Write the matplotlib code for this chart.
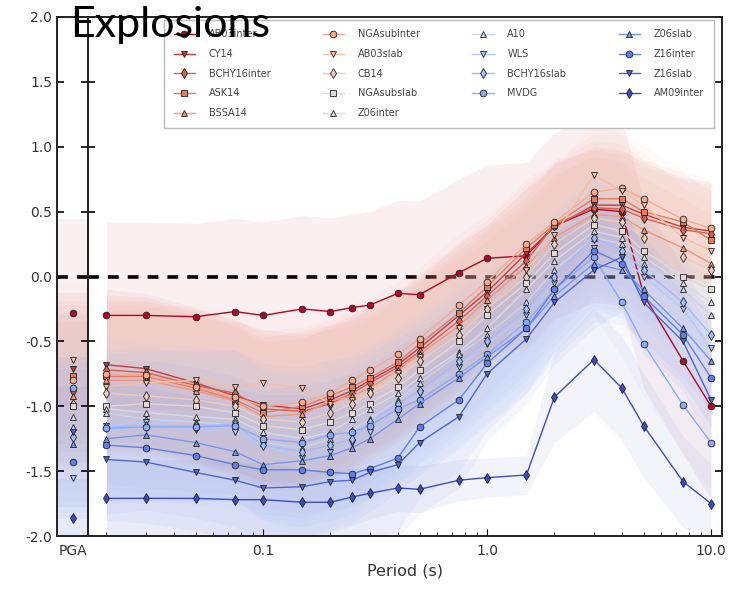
import numpy as np
import matplotlib
matplotlib.use("Agg")
import matplotlib.pyplot as plt
from matplotlib.ticker import FixedLocator, FixedFormatter, LogLocator, NullFormatter

periods = [0.02, 0.03, 0.05, 0.075, 0.1, 0.15, 0.2, 0.25, 0.3, 0.4, 0.5,
           0.75, 1.0, 1.5, 2.0, 3.0, 4.0, 5.0, 7.5, 10.0]

names = ["AB03inter", "CY14", "BCHY16inter", "ASK14", "BSSA14",
         "NGAsubinter", "AB03slab", "CB14", "NGAsubslab", "Z06inter",
         "A10", "WLS", "BCHY16slab", "MVDG",
         "Z06slab", "Z16inter", "Z16slab", "AM09inter"]

markers = ["o", "v", "d", "s", "^",
           "o", "v", "d", "s", "^",
           "^", "v", "d", "o",
           "^", "o", "v", "d"]

pga = [-0.28, -0.71, -0.88, -0.77, -0.92,
       -0.80, -0.64, -0.98, -1.00, -1.08,
       -1.16, -1.55, -1.24, -0.86,
       -1.29, -1.43, -1.20, -1.86]

s00 = [-0.30, -0.30, -0.31, -0.27, -0.30, -0.25, -0.27, -0.24, -0.22, -0.13, -0.14, 0.03, 0.14, 0.16, 0.39, 0.52, 0.50, -0.14, -0.65, -1.00]
s01 = [-0.68, -0.71, -0.82, -0.92, -0.99, -1.02, -0.95, -0.88, -0.80, -0.68, -0.55, -0.30, -0.12, 0.18, 0.38, 0.55, 0.55, 0.48, 0.38, 0.35]
s02 = [-0.72, -0.74, -0.84, -0.90, -1.02, -1.04, -0.98, -0.90, -0.82, -0.70, -0.58, -0.34, -0.15, 0.12, 0.40, 0.53, 0.52, 0.45, 0.36, 0.33]
s03 = [-0.77, -0.77, -0.86, -0.95, -1.05, -1.00, -0.92, -0.85, -0.78, -0.66, -0.52, -0.28, -0.08, 0.22, 0.40, 0.60, 0.60, 0.50, 0.42, 0.28]
s04 = [-0.80, -0.80, -0.88, -0.96, -1.08, -1.06, -0.96, -0.92, -0.86, -0.72, -0.60, -0.38, -0.18, 0.08, 0.30, 0.48, 0.46, 0.36, 0.22, 0.10]
s05 = [-0.75, -0.76, -0.85, -0.93, -1.00, -0.97, -0.90, -0.80, -0.72, -0.60, -0.48, -0.22, -0.04, 0.25, 0.42, 0.65, 0.68, 0.60, 0.44, 0.37]
s06 = [-0.85, -0.82, -0.80, -0.85, -0.82, -0.86, -0.98, -0.95, -0.88, -0.74, -0.62, -0.40, -0.25, 0.05, 0.32, 0.78, 0.66, 0.55, 0.30, 0.20]
s07 = [-0.90, -0.92, -0.95, -1.00, -1.10, -1.12, -1.05, -0.98, -0.90, -0.78, -0.65, -0.45, -0.25, 0.00, 0.25, 0.45, 0.42, 0.30, 0.15, 0.05]
s08 = [-1.00, -0.98, -1.00, -1.05, -1.15, -1.18, -1.12, -1.05, -0.98, -0.85, -0.72, -0.50, -0.30, -0.05, 0.18, 0.40, 0.35, 0.20, 0.00, -0.10]
s09 = [-1.02, -1.05, -1.08, -1.10, -1.20, -1.25, -1.20, -1.10, -1.02, -0.90, -0.78, -0.58, -0.40, -0.10, 0.12, 0.35, 0.30, 0.15, -0.05, -0.20]
s10 = [-1.05, -1.10, -1.12, -1.15, -1.28, -1.32, -1.25, -1.18, -1.10, -0.95, -0.82, -0.60, -0.45, -0.20, 0.05, 0.30, 0.25, 0.10, -0.10, -0.30]
s11 = [-1.15, -1.12, -1.18, -1.20, -1.30, -1.40, -1.35, -1.28, -1.20, -1.05, -0.90, -0.70, -0.52, -0.30, -0.05, 0.22, 0.15, 0.00, -0.25, -0.55]
s12 = [-1.16, -1.15, -1.15, -1.14, -1.30, -1.35, -1.30, -1.25, -1.12, -0.98, -0.88, -0.65, -0.50, -0.25, 0.00, 0.30, 0.20, 0.05, -0.20, -0.45]
s13 = [-1.17, -1.16, -1.16, -1.15, -1.25, -1.28, -1.22, -1.20, -1.15, -1.02, -0.95, -0.75, -0.60, -0.35, -0.10, 0.15, -0.20, -0.52, -0.99, -1.28]
s14 = [-1.25, -1.22, -1.28, -1.35, -1.45, -1.42, -1.38, -1.32, -1.25, -1.10, -0.98, -0.78, -0.62, -0.40, -0.15, 0.10, 0.05, -0.10, -0.40, -0.65]
s15 = [-1.30, -1.32, -1.38, -1.45, -1.49, -1.49, -1.51, -1.52, -1.48, -1.40, -1.16, -0.95, -0.67, -0.40, -0.10, 0.20, 0.10, -0.15, -0.45, -0.78]
s16 = [-1.41, -1.43, -1.51, -1.57, -1.63, -1.62, -1.58, -1.57, -1.51, -1.45, -1.28, -1.08, -0.75, -0.48, -0.20, 0.05, 0.15, -0.20, -0.50, -0.95]
s17 = [-1.71, -1.71, -1.71, -1.72, -1.72, -1.74, -1.74, -1.70, -1.67, -1.63, -1.64, -1.57, -1.55, -1.53, -0.93, -0.64, -0.86, -1.15, -1.58, -1.75]

series = [s00, s01, s02, s03, s04, s05, s06, s07, s08, s09,
          s10, s11, s12, s13, s14, s15, s16, s17]

# standard deviations used for the shaded bands
sig_first = [0.72] * 20
sig_mid = [0.58, 0.58, 0.58, 0.58, 0.58, 0.58, 0.58, 0.58, 0.56, 0.56,
           0.55, 0.55, 0.52, 0.50, 0.48, 0.45, 0.42, 0.40, 0.38, 0.38]
sig_last = [0.30, 0.30, 0.30, 0.30, 0.28, 0.26, 0.24, 0.22, 0.20, 0.18,
            0.18, 0.16, 0.15, 0.15, 0.35, 0.40, 0.40, 0.40, 0.35, 0.30]
sig_pga = [0.72] + [0.58] * 16 + [0.30]

n = len(series)
colors = plt.cm.coolwarm_r(np.linspace(0, 1, n))

fig = plt.figure(figsize=(7.44, 5.99), dpi=100)
W, H = 744.0, 599.0
bot = 1 - 536 / H
top = 1 - 17 / H
axp = fig.add_axes([57 / W, bot, 31 / W, top - bot])
ax = fig.add_axes([88 / W, bot, (722 - 88) / W, top - bot], sharey=axp)

alpha_band = 0.06
for i, (vals, c) in enumerate(zip(series, colors)):
    if i == 0:
        sg = np.array(sig_first)
    elif i == n - 1:
        sg = np.array(sig_last)
    else:
        sg = np.array(sig_mid)
    v = np.array(vals)
    ax.fill_between(periods, v - sg, v + sg, color=c, alpha=alpha_band, lw=0, zorder=1)
    ax.plot(periods, v, color=c, lw=1.0, marker=markers[i], ms=4.8,
            mec="#222222", mew=0.6, mfc=c, label=names[i], zorder=3 + i * 0.01)
    axp.axhspan(pga[i] - sig_pga[i], pga[i] + sig_pga[i], color=c, alpha=alpha_band, lw=0, zorder=1)
    axp.plot([0.5], [pga[i]], color=c, marker=markers[i], ms=4.8, mec="#222222",
             mew=0.6, mfc=c, ls="none", zorder=3)

for a in (ax, axp):
    a.axhline(0, color="k", ls=(0, (3, 2.5)), lw=2.6, zorder=0.5)
    for sp in a.spines.values():
        sp.set_linewidth(1.4)
        sp.set_color("#222222")

axp.set_xlim(0, 1)
axp.set_ylim(-2.0, 2.0)
yt = [-2.0, -1.5, -1.0, -0.5, 0.0, 0.5, 1.0, 1.5, 2.0]
axp.set_yticks(yt)
axp.set_yticklabels(["%.1f" % t for t in yt])
axp.set_xticks([0.5])
axp.set_xticklabels(["PGA"])
axp.tick_params(axis="x", length=0, labelsize=10, labelcolor="#333333", pad=6)
axp.tick_params(axis="y", direction="in", left=True, right=True, length=5,
                labelsize=10, labelcolor="#333333", width=1.2)

ax.set_xscale("log")
ax.set_xlim(0.01655, 11.2)
ax.xaxis.set_major_locator(FixedLocator([0.1, 1.0, 10.0]))
ax.xaxis.set_major_formatter(FixedFormatter(["0.1", "1.0", "10.0"]))
ax.xaxis.set_minor_locator(LogLocator(base=10, subs=np.arange(2, 10) * 1.0))
ax.xaxis.set_minor_formatter(NullFormatter())
ax.tick_params(axis="x", which="major", direction="in", length=5, labelsize=10,
               labelcolor="#333333", pad=6, top=False)
ax.tick_params(axis="x", which="minor", direction="in", length=3, top=False)
ax.tick_params(axis="y", direction="in", left=True, right=True, labelleft=False,
               length=5, width=1.2)
ax.set_xlabel("Period (s)", fontsize=11.5, color="#333333", labelpad=4)

leg = ax.legend(ncol=4, fontsize=7, loc="upper right", bbox_to_anchor=(0.987, 0.995),
                borderaxespad=0, labelspacing=1.0, columnspacing=5.4,
                handlelength=2.2, handletextpad=1.4, frameon=True, fancybox=False,
                edgecolor="#bbbbbb", framealpha=1.0, borderpad=1.0)
leg.set_zorder(10)
for t in leg.get_texts():
    t.set_color("#444444")

fig.text(70 / W, 1 - 37 / H, "Explosions", fontsize=31, family="Lato",
         va="baseline", ha="left", zorder=20)

fig.savefig("out.png", dpi=100)
